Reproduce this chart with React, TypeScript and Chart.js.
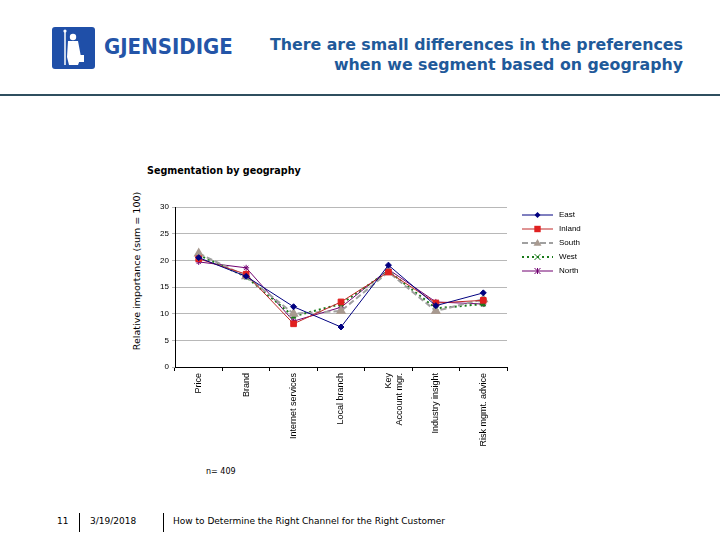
import React, { useEffect, useRef } from "react";
import { Chart, registerables } from "chart.js";

Chart.register(...registerables);

const categories: (string | string[])[] = [
  "Price",
  "Brand",
  "Internet services",
  "Local branch",
  ["Key", "Account mgr."],
  "Industry insight",
  "Risk mgmt. advice",
];
const east = [20.5, 17.0, 11.3, 7.5, 19.1, 11.5, 13.9];
const inland = [20.3, 17.4, 8.1, 12.2, 17.8, 12.0, 12.5];
const south = [21.3, 17.0, 10.0, 10.5, 17.8, 10.5, 12.7];
const west = [21.0, 16.9, 9.5, 11.8, 18.0, 11.0, 11.8];
const north = [19.7, 18.6, 8.6, 11.2, 18.3, 12.2, 11.8];
const yTicks = [0, 5, 10, 15, 20, 25, 30];

function drawMarker(ctx: CanvasRenderingContext2D, ds: any, x: number, y: number) {
  const r = ds.pointRadius;
  ctx.save();
  ctx.fillStyle = ds.pointBackgroundColor;
  ctx.strokeStyle = ds.pointBorderColor;
  ctx.lineWidth = 1;
  ctx.beginPath();
  switch (ds.pointStyle) {
    case "rectRot":
      ctx.moveTo(x, y - r);
      ctx.lineTo(x + r, y);
      ctx.lineTo(x, y + r);
      ctx.lineTo(x - r, y);
      ctx.closePath();
      ctx.fill();
      break;
    case "rect":
      ctx.rect(x - r * 0.8, y - r * 0.8, r * 1.6, r * 1.6);
      ctx.fill();
      break;
    case "triangle":
      ctx.moveTo(x, y - r);
      ctx.lineTo(x + r, y + r * 0.7);
      ctx.lineTo(x - r, y + r * 0.7);
      ctx.closePath();
      ctx.fill();
      break;
    case "crossRot":
      ctx.moveTo(x - r, y - r);
      ctx.lineTo(x + r, y + r);
      ctx.moveTo(x + r, y - r);
      ctx.lineTo(x - r, y + r);
      ctx.stroke();
      break;
    default:
      ctx.moveTo(x - r, y - r);
      ctx.lineTo(x + r, y + r);
      ctx.moveTo(x + r, y - r);
      ctx.lineTo(x - r, y + r);
      ctx.moveTo(x, y - r);
      ctx.lineTo(x, y + r);
      ctx.stroke();
  }
  ctx.restore();
}

const legendPlugin = {
  id: "sideLegend",
  afterDraw(chart: any) {
    const ctx = chart.ctx;
    const x0 = chart.chartArea.right + 15;
    const y0 = chart.chartArea.top + 8;
    ctx.save();
    chart.data.datasets.forEach((ds: any, i: number) => {
      const y = y0 + i * 14;
      ctx.strokeStyle = ds.borderColor;
      ctx.lineWidth = ds.borderWidth;
      ctx.setLineDash(ds.borderDash || []);
      ctx.beginPath();
      ctx.moveTo(x0, y);
      ctx.lineTo(x0 + 31, y);
      ctx.stroke();
      ctx.setLineDash([]);
      drawMarker(ctx, ds, x0 + 15.5, y);
      ctx.fillStyle = "#000";
      ctx.font = "8px 'Liberation Sans', Arial, sans-serif";
      ctx.textBaseline = "middle";
      ctx.textAlign = "left";
      ctx.fillText(ds.label, x0 + 37, y);
    });
    ctx.restore();
  },
};

function ChartBox() {
  const ref = useRef<HTMLCanvasElement>(null);
  useEffect(() => {
    if (!ref.current) return;
    const tickFont = { family: "'Liberation Sans', Arial, sans-serif", size: 8 };
    const chart = new Chart(ref.current, {
      type: "line",
      data: {
        labels: categories as any,
        datasets: [
          {
            label: "East",
            data: east,
            borderColor: "#000080",
            borderWidth: 1,
            pointStyle: "rectRot",
            pointRadius: 3,
            pointBackgroundColor: "#000080",
            pointBorderColor: "#000080",
          },
          {
            label: "Inland",
            data: inland,
            borderColor: "#c02828",
            borderWidth: 1,
            pointStyle: "rect",
            pointRadius: 4,
            pointBackgroundColor: "#e02020",
            pointBorderColor: "#e02020",
          },
          {
            label: "South",
            data: south,
            borderColor: "#a0a0a0",
            borderWidth: 2,
            borderDash: [6, 3],
            pointStyle: "triangle",
            pointRadius: 4,
            pointBackgroundColor: "#a89a90",
            pointBorderColor: "#a89a90",
          },
          {
            label: "West",
            data: west,
            borderColor: "#1a7a1a",
            borderWidth: 2,
            borderDash: [2, 3],
            pointStyle: "crossRot",
            pointRadius: 3,
            pointBackgroundColor: "#1a7a1a",
            pointBorderColor: "#1a7a1a",
          },
          {
            label: "North",
            data: north,
            borderColor: "#700070",
            borderWidth: 1,
            pointStyle: "star",
            pointRadius: 3,
            pointBackgroundColor: "#700070",
            pointBorderColor: "#700070",
          },
        ] as any,
      },
      options: {
        animation: false,
        responsive: false,
        maintainAspectRatio: false,
        layout: { padding: { top: 17, right: 133, left: 0, bottom: 0 } },
        plugins: {
          legend: { display: false },
          title: { display: false },
          tooltip: { enabled: false },
        },
        elements: { line: { tension: 0 } },
        scales: {
          x: {
            offset: true,
            grid: {
              offset: true,
              drawOnChartArea: false,
              drawTicks: true,
              tickLength: 4,
              color: "#000",
            },
            border: { color: "#000", width: 1 },
            ticks: {
              minRotation: 90,
              maxRotation: 90,
              autoSkip: false,
              font: { family: "'Liberation Sans', Arial, sans-serif", size: 9 },
              color: "#000",
              padding: 2,
            },
            afterFit(scale: any) {
              scale.height = 100;
            },
          },
          y: {
            min: 0,
            max: 30,
            afterBuildTicks(scale: any) {
              scale.ticks = yTicks.map((v) => ({ value: v }));
            },
            grid: {
              color: "#b8b8b8",
              drawTicks: true,
              tickLength: 3,
            },
            border: { color: "#000", width: 1 },
            ticks: { font: tickFont, color: "#000", padding: 3 },
            afterFit(scale: any) {
              scale.width = 45;
            },
          },
        },
      },
      plugins: [legendPlugin],
    });
    return () => chart.destroy();
  }, []);
  return (
    <canvas
      ref={ref}
      width={510}
      height={277}
      style={{ position: "absolute", left: 130, top: 190, width: 510, height: 277 }}
    />
  );
}

export default function App() {
  const blue = "#1f5a9a";
  return (
    <div
      style={{
        position: "absolute",
        left: 0,
        top: 0,
        width: 720,
        height: 540,
        background: "#fff",
        overflow: "hidden",
        fontFamily: "'DejaVu Sans', Verdana, sans-serif",
      }}
    >
      <svg
        width={43}
        height={42}
        style={{ position: "absolute", left: 52, top: 27 }}
        viewBox="0 0 43 42"
      >
        <rect x={0} y={0} width={43} height={42} rx={3} fill="#1f4fa8" />
        <line x1={13} y1={3} x2={13} y2={38} stroke="#fff" strokeWidth={1.5} />
        <circle cx={13} cy={4} r={1.6} fill="#fff" />
        <circle cx={21} cy={10} r={3.2} fill="#fff" />
        <path d="M16 14 L26 14 L29 30 L26 38 L17 38 L15 30 Z" fill="#fff" />
        <rect x={26} y={28} width={6} height={7} fill="#fff" />
      </svg>
      <div
        style={{
          position: "absolute",
          left: 104,
          top: 35,
          fontFamily: "'DejaVu Sans Condensed', 'DejaVu Sans', sans-serif",
          fontWeight: "bold",
          fontSize: 22,
          color: "#2455a8",
          lineHeight: "24px",
        }}
      >
        GJENSIDIGE
      </div>
      <div
        style={{
          position: "absolute",
          right: 37,
          top: 35,
          textAlign: "right",
          fontFamily: "'DejaVu Sans', Verdana, sans-serif",
          fontWeight: "bold",
          fontSize: 15.8,
          lineHeight: "20px",
          color: blue,
          whiteSpace: "nowrap",
        }}
      >
        There are small differences in the preferences
        <br />
        when we segment based on geography
      </div>
      <div
        style={{
          position: "absolute",
          left: 0,
          top: 94,
          width: 720,
          height: 2,
          background: "#2f4f5f",
        }}
      />
      <div
        style={{
          position: "absolute",
          left: 147,
          top: 165,
          fontSize: 9.6,
          fontWeight: "bold",
          color: "#000",
        }}
      >
        Segmentation by geography
      </div>
      <div
        style={{
          position: "absolute",
          left: 136,
          top: 271,
          transform: "translate(-50%, -50%) rotate(-90deg)",
          fontSize: 9.5,
          color: "#000",
          whiteSpace: "nowrap",
        }}
      >
        Relative importance (sum = 100)
      </div>
      <ChartBox />
      <div
        style={{
          position: "absolute",
          left: 206,
          top: 467,
          fontSize: 8,
          color: "#000",
        }}
      >
        n= 409
      </div>
      <div style={{ position: "absolute", left: 57, top: 516, fontSize: 9, color: "#000" }}>11</div>
      <div style={{ position: "absolute", left: 79, top: 513, width: 1, height: 19, background: "#000" }} />
      <div style={{ position: "absolute", left: 90, top: 516, fontSize: 9, color: "#000" }}>3/19/2018</div>
      <div style={{ position: "absolute", left: 163, top: 513, width: 1, height: 19, background: "#000" }} />
      <div style={{ position: "absolute", left: 173, top: 516, fontSize: 9, color: "#000" }}>
        How to Determine the Right Channel for the Right Customer
      </div>
    </div>
  );
}
